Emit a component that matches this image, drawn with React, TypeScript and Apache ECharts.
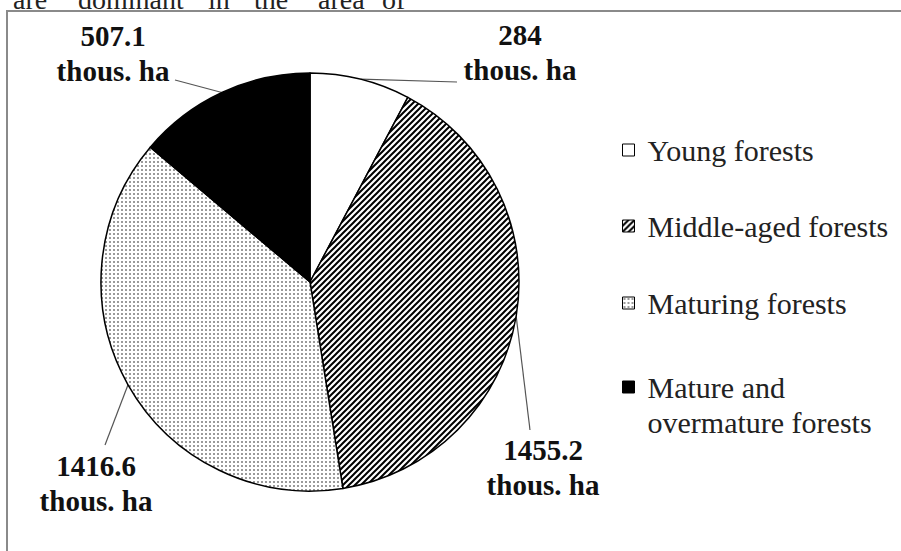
import React, { useEffect, useRef } from 'react';
import * as echarts from 'echarts';

// ---- data ----
const categories = ['Young forests', 'Middle-aged forests', 'Maturing forests', 'Mature and overmature forests'];
const areas = [284, 1455.2, 1416.6, 507.1];
const unitLabel = 'thous. ha';
const legendLabels = ['Young forests', 'Middle-aged forests', 'Maturing forests', 'Mature and\novermature forests'];
const headerWords = ['are', 'dominant', 'in', 'the', 'area', 'of'];

// ---- layout ----
const SERIF = '"Liberation Serif", "Times New Roman", Times, serif';
const CX = 310;
const CY = 282;
const R = 209;
const labelCenters = [[520, 52], [543, 467], [96, 483], [113, 53]];
const labelLineEnds = [[457, 82], [530, 430], [105, 445], [175, 80]];
const headerX = [13, 78, 208, 254, 318, 382];
const legendRowY = [150, 226, 303, 387];

function makeHatch(): HTMLCanvasElement {
  const c = document.createElement('canvas');
  c.width = 6;
  c.height = 6;
  const ctx = c.getContext('2d')!;
  ctx.fillStyle = '#fff';
  ctx.fillRect(0, 0, 6, 6);
  ctx.strokeStyle = '#000';
  ctx.lineWidth = 2;
  ctx.beginPath();
  ctx.moveTo(-1, 7); ctx.lineTo(7, -1);
  ctx.moveTo(-4, 4); ctx.lineTo(4, -4);
  ctx.moveTo(2, 10); ctx.lineTo(10, 2);
  ctx.stroke();
  return c;
}

function makeDots(): HTMLCanvasElement {
  const c = document.createElement('canvas');
  c.width = 4;
  c.height = 4;
  const ctx = c.getContext('2d')!;
  ctx.fillStyle = '#fff';
  ctx.fillRect(0, 0, 4, 4);
  ctx.fillStyle = '#9a9a9a';
  ctx.fillRect(1, 1, 2, 2);
  return c;
}

export default function App() {
  const ref = useRef<HTMLDivElement>(null);
  useEffect(() => {
    if (!ref.current) return;
    const chart = echarts.init(ref.current, undefined, { renderer: 'svg' });
    const hatch = makeHatch();
    const dots = makeDots();
    const fills: any[] = [
      '#ffffff',
      { image: hatch, repeat: 'repeat', imageWidth: 6, imageHeight: 6 },
      { image: dots, repeat: 'repeat', imageWidth: 4, imageHeight: 4 },
      '#000000',
    ];
    const option: any = {
      animation: false,
      backgroundColor: '#ffffff',
      graphic: [
        {
          type: 'rect',
          silent: true,
          z: -10,
          shape: { x: 7, y: 11, width: 930, height: 580 },
          style: { fill: 'none', stroke: '#8a8a8a', lineWidth: 2 },
        },
        ...headerWords.map((w, i) => ({
          type: 'text',
          silent: true,
          x: headerX[i],
          y: -0.5,
          style: {
            text: w,
            fontFamily: SERIF,
            fontSize: 28,
            fill: '#222',
            align: 'left',
            verticalAlign: 'middle',
          },
        })),
      ],
      legend: categories.map((name, i) => ({
        data: [name],
        left: 622,
        top: legendRowY[i] - 17.5,
        orient: 'vertical',
        padding: 0,
        selectedMode: false,
        itemWidth: 12,
        itemHeight: i === 3 ? 47 : 12,
        icon: i === 3 ? 'path://M0,0h12v12h-12zM0,47L0,47' : 'rect',
        itemStyle: { borderWidth: 1, borderColor: '#000' },
        formatter: (n: string) => legendLabels[categories.indexOf(n)],
        textStyle: {
          fontFamily: SERIF,
          fontSize: 30,
          lineHeight: 35,
          color: '#222',
          padding: [0, 0, 0, 8],
        },
      })),
      series: [
        {
          type: 'pie',
          center: [CX, CY],
          radius: R,
          startAngle: 90,
          clockwise: true,
          avoidLabelOverlap: false,
          silent: true,
          emphasis: { disabled: true },
          data: categories.map((name, i) => ({
            name,
            value: areas[i],
            itemStyle: { color: fills[i] },
          })),
          itemStyle: { borderColor: '#000', borderWidth: 1.5 },
          label: {
            show: true,
            position: 'outside',
            formatter: (p: any) => `${p.value}\n${unitLabel}`,
            fontFamily: SERIF,
            fontWeight: 'bold',
            fontSize: 29,
            lineHeight: 35,
            color: '#111',
            align: 'center',
          },
          labelLine: { show: true, lineStyle: { color: '#555', width: 1.2 } },
          labelLayout: (params: any) => {
            const i = params.dataIndex;
            const c = labelCenters[i];
            const e = labelLineEnds[i];
            const pts = params.labelLinePoints;
            const out: any = { x: c[0], y: c[1], align: 'center', verticalAlign: 'middle' };
            if (pts && pts[0]) out.labelLinePoints = [pts[0], e, e];
            return out;
          },
        },
      ],
    };
    chart.setOption(option);
    return () => chart.dispose();
  }, []);
  return (
    <div
      ref={ref}
      style={{ position: 'fixed', left: 0, top: 0, width: 901, height: 551, background: '#fff' }}
    />
  );
}
